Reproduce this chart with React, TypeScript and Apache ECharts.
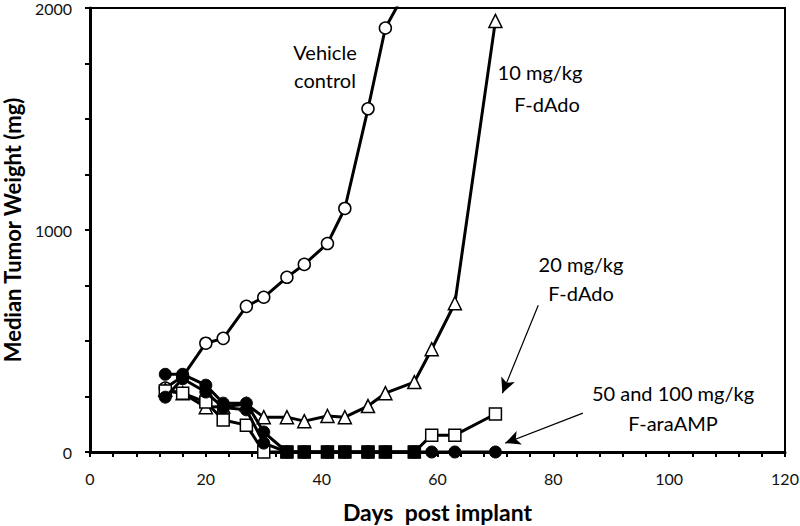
import React, { useEffect, useRef } from "react";
import * as echarts from "echarts";

// Days post implant
const vehicleDays = [13, 16, 20, 23, 27, 30, 34, 37, 41, 44, 48, 51, 55];
const vehicleValues = [288, 340, 490, 512, 656, 697, 787, 845, 939, 1097, 1546, 1910, 2100];

const dAdo10Days = [13, 16, 20, 23, 27, 30, 34, 37, 41, 44, 48, 51, 56, 59, 63, 70];
const dAdo10Values = [280, 265, 202, 205, 215, 157, 157, 139, 162, 157, 207, 265, 315, 463, 670, 1942];

const dAdo20Days = [13, 16, 20, 23, 27, 30, 34, 37, 41, 44, 48, 51, 56, 59, 63, 70];
const dAdo20Values = [275, 265, 225, 144, 121, 0, 0, 0, 0, 0, 0, 0, 0, 76, 76, 171];

const araAMP50Days = [13, 16, 20, 23, 27, 30, 34, 37, 41, 44, 48, 51, 56, 59, 63, 70];
const araAMP50Values = [350, 350, 301, 220, 220, 90, 0, 0, 0, 0, 0, 0, 0, 0, 0, 0];

const araAMP100Days = [13, 16, 20, 23, 27, 30, 34, 37, 41, 44, 48, 51, 56];
const araAMP100Values = [247, 330, 270, 200, 190, 40, 0, 0, 0, 0, 0, 0, 0];

const xTickLabels = [0, 20, 40, 60, 80, 100, 120];
const yTickLabels = [0, 1000, 2000];

// annotation arrows in data coordinates [day, mg]
const arrow20From = [77.4, 661];
const arrow20To = [71.2, 265];
const arrowAraFrom = [85.1, 175];
const arrowAraTo = [71.7, 40];

const zip = (xs: number[], ys: number[]) => xs.map((x, i) => [x, ys[i]]);

const FONT = "Lato";

export default function App() {
  const ref = useRef<HTMLDivElement>(null);
  useEffect(() => {
    if (!ref.current) return;
    const chart = echarts.init(ref.current, undefined, { renderer: "svg" });
    const lineBase = {
      type: "line" as const,
      lineStyle: { color: "#000", width: 3 },
      emphasis: { disabled: true },
      clip: true,
    };
    const openItem = { color: "#fff", borderColor: "#000", borderWidth: 1.5 };
    const filledItem = { color: "#000", borderColor: "#000", borderWidth: 1 };
    const txt = (x: number, y: number, text: string, lh: number) => ({
      type: "text",
      x,
      y,
      style: {
        text,
        fill: "#000",
        fontSize: 20,
        fontFamily: FONT,
        lineHeight: lh,
        align: "center",
        verticalAlign: "top",
        textAlign: "center",
        textVerticalAlign: "top",
      },
    });
    const option: any = {
      animation: false,
      backgroundColor: "#fff",
      textStyle: { fontFamily: FONT },
      grid: {
        left: 90,
        right: 15,
        top: 8,
        bottom: 74,
        show: true,
        borderColor: "#000",
        borderWidth: 2,
        backgroundColor: "transparent",
        containLabel: false,
        outerBoundsMode: "none",
      },
      xAxis: {
        type: "value",
        min: 0,
        max: 120,
        interval: 4,
        axisLine: { lineStyle: { color: "#000", width: 3 } },
        axisTick: { inside: false, length: 5, lineStyle: { color: "#000", width: 2 } },
        axisLabel: {
          formatter: (v: number) => (xTickLabels.includes(v) ? String(v) : ""),
          fontSize: 16,
          color: "#111",
          margin: 18,
          fontFamily: FONT,
        },
        splitLine: { show: false },
        name: "Days  post implant",
        nameLocation: "middle",
        nameGap: 48,
        nameMoveOverlap: false,
        nameTextStyle: { fontSize: 23, fontWeight: "bold", color: "#000", fontFamily: FONT },
      },
      yAxis: {
        type: "value",
        min: 0,
        max: 2000,
        interval: 250,
        axisLine: { lineStyle: { color: "#000", width: 3 } },
        axisTick: { inside: false, length: 5, lineStyle: { color: "#000", width: 2 } },
        axisLabel: {
          formatter: (v: number) => (yTickLabels.includes(v) ? String(v) : ""),
          fontSize: 16,
          color: "#111",
          margin: 18,
          fontFamily: FONT,
        },
        splitLine: { show: false },
        name: "Median Tumor Weight (mg)",
        nameLocation: "middle",
        nameGap: 66,
        nameMoveOverlap: false,
        nameTextStyle: { fontSize: 22, lineHeight: 24, fontWeight: "bold", color: "#000", fontFamily: FONT },
      },
      series: [
        {
          ...lineBase,
          name: "Vehicle control",
          data: zip(vehicleDays, vehicleValues),
          symbol: "circle",
          symbolSize: 12,
          itemStyle: openItem,
          z: 2,
        },
        {
          ...lineBase,
          name: "10 mg/kg F-dAdo",
          data: zip(dAdo10Days, dAdo10Values),
          symbol: "triangle",
          symbolSize: 13,
          itemStyle: openItem,
          z: 3,
        },
        {
          ...lineBase,
          name: "20 mg/kg F-dAdo",
          data: zip(dAdo20Days, dAdo20Values),
          symbol: "rect",
          symbolSize: 12,
          itemStyle: openItem,
          z: 4,
          markLine: {
            silent: true,
            symbol: ["none", "arrow"],
            symbolSize: [11, 15],
            label: { show: false },
            lineStyle: { color: "#000", width: 1.2, type: "solid" },
            data: [
              [{ coord: arrow20From }, { coord: arrow20To }],
              [{ coord: arrowAraFrom }, { coord: arrowAraTo }],
            ],
          },
        },
        {
          ...lineBase,
          name: "100 mg/kg F-araAMP",
          data: zip(araAMP100Days, araAMP100Values),
          symbol: (v: number[]) => (v[0] >= 34 ? "rect" : "circle"),
          symbolSize: 12,
          itemStyle: filledItem,
          z: 5,
        },
        {
          ...lineBase,
          name: "50 mg/kg F-araAMP",
          data: zip(araAMP50Days, araAMP50Values),
          symbol: "circle",
          symbolSize: 12,
          itemStyle: filledItem,
          z: 6,
        },
      ],
      graphic: [
        txt(325, 38, "Vehicle\ncontrol", 28),
        txt(540, 57, "10 mg/kg", 30),
        txt(547, 89, "F-dAdo", 30),
        txt(581, 249, "20 mg/kg\nF-dAdo", 29),
        txt(673, 378, "50 and 100 mg/kg\nF-araAMP", 30),
      ],
    };
    chart.setOption(option);
    return () => chart.dispose();
  }, []);
  return (
    <div
      ref={ref}
      style={{ position: "absolute", left: 0, top: 0, width: 800, height: 526 }}
    />
  );
}
